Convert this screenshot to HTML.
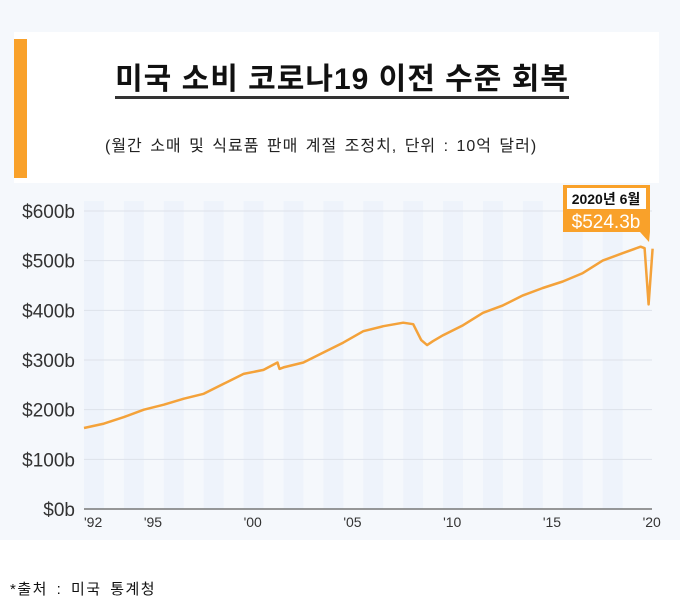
<!DOCTYPE html>
<html><head><meta charset="utf-8">
<style>
body{margin:0;width:680px;height:616px;background:#fff;font-family:"Liberation Sans","Noto Sans CJK KR",sans-serif;position:relative;overflow:hidden}
#bg{position:absolute;left:0;top:0;width:680px;height:540px;background:#f5f8fc}
#head{position:absolute;left:14px;top:32px;width:645px;height:151px;background:#fff}
#bar{position:absolute;left:14px;top:39px;width:13px;height:139px;background:#f9a12a}
#title{position:absolute;left:0;width:684px;top:54px;text-align:center;font-size:30px;font-weight:bold;color:#111;letter-spacing:1px}
#title span{border-bottom:3px solid #333;padding-bottom:0px}
#sub{position:absolute;left:105px;top:132px;font-size:16px;color:#222;letter-spacing:1px;word-spacing:2px}
#src{position:absolute;left:10px;top:578px;font-size:15px;color:#111;letter-spacing:1.5px;word-spacing:3px}
svg{position:absolute;left:0;top:0}
</style></head><body>
<div id="bg"></div>
<div id="head"></div>
<div id="bar"></div>
<div id="title"><span>미국 소비 코로나19 이전 수준 회복</span></div>
<div id="sub">(월간 소매 및 식료품 판매 계절 조정치, 단위 :  10억 달러)</div>
<div id="src">*출처 :  미국 통계청</div>
<svg id="chart" width="680" height="616"></svg>
<script>
const years=[1992,1993,1994,1995,1996,1997,1998,1999,2000,2001,2001.7,2001.8,2002,2003,2004,2005,2006,2007,2008,2008.5,2008.9,2009.2,2009.5,2010,2011,2012,2013,2014,2015,2016,2017,2018,2019,2019.9,2020.1,2020.3,2020.5];
const sales=[163,172,185,200,210,222,232,252,272,280,295,282,285,295,315,335,358,368,375,372,340,330,338,350,370,395,410,430,445,458,475,500,515,528,525,412,524];
const yTicks=[0,100,200,300,400,500,600];
const yTickLabels=["$0b","$100b","$200b","$300b","$400b","$500b","$600b"];
const xTicks=[1992,1995,2000,2005,2010,2015,2020];
const xTickLabels=["'92","'95","'00","'05","'10","'15","'20"];
const ns="http://www.w3.org/2000/svg";
const svg=document.getElementById('chart');
const X=y=>84+(y-1992)*19.95;
const Y=v=>509-v*0.4967;
function mk(t,a){const e=document.createElementNS(ns,t);for(const k in a)e.setAttribute(k,a[k]);svg.appendChild(e);return e;}
for(let yr=1992;yr<2020;yr+=2){
 const r=mk('rect',{x:X(yr),y:Y(620),width:19.95,height:Y(0)-Y(620),fill:'#eef3fb'});
 
 
}
yTicks.forEach((v,i)=>{
 if(v>0){const l=mk('line',{x1:84,x2:652,y1:Y(v),y2:Y(v),stroke:'#dde2ea','stroke-width':1});
 
 }
 const t=mk('text',{x:75,y:Y(v)+7,'text-anchor':'end','font-size':19,fill:'#333'});
 t.textContent=yTickLabels[i];
 
 
});
const ax=mk('line',{x1:84,x2:652,y1:Y(0),y2:Y(0),stroke:'#777','stroke-width':1.5});


xTicks.forEach((yr,i)=>{
 const t=mk('text',{x:X(yr),y:527,'font-size':14,fill:'#333'});
 t.textContent=xTickLabels[i];
 
 
});
const p=mk('polyline',{points:years.map((y,i)=>X(y).toFixed(1)+','+Y(sales[i]).toFixed(1)).join(' '),fill:'none',stroke:'#f4a23a','stroke-width':2.5,'stroke-linejoin':'round'});


const tb=mk('rect',{x:563,y:185,width:87,height:47,fill:'#f9a12a'});


const tp=mk('polygon',{points:'640,232 650,232 649,242',fill:'#f9a12a'});


const ti=mk('rect',{x:567,y:188,width:79,height:21,fill:'#fff'});


const t1=mk('text',{x:606,y:204,'text-anchor':'middle','font-size':14,'font-weight':'bold',fill:'#111'});
t1.textContent='2020년 6월';


const t2=mk('text',{x:606,y:228,'text-anchor':'middle','font-size':19,fill:'#fff'});
t2.textContent='$524.3b';


</script>
</body></html>
